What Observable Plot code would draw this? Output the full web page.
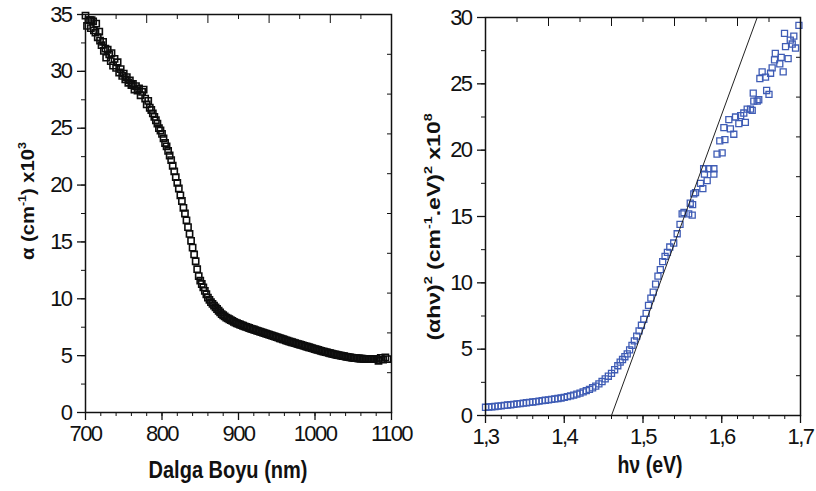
<!DOCTYPE html>
<html><head><meta charset="utf-8">
<script src="https://cdn.jsdelivr.net/npm/d3@7"></script>
<script src="https://cdn.jsdelivr.net/npm/@observablehq/plot@0.6"></script>
<style>
body{margin:0;background:#fff;}
#wrap{position:relative;width:816px;height:491px;overflow:hidden;background:#fff;}
#left,#right{position:absolute;top:0;}
#left{left:0} #right{left:408px}
</style></head><body><div id="wrap"><div id="left"></div><div id="right"></div></div>
<script>
// ---- Left panel: absorption coefficient vs wavelength ----
const wavelength = [700,702,704,706,707,708,710,711,713,714,716,718,719,721,723,724,726,727,729,731,733,734,736,738,740,742,744,746,748,750,752,754,756,758,760,762,764,766,768,770,772,774,776,778,780,782,784,786,788,790,792,794,796,798,800,802,804,806,808,810,812,814,816,818,820,822,824,826,828,830,832,834,836,838,840,842,844,846,848,850,852,854,856,858,860,862,864,866,868,870,872,874,876,878,880,882,884,886,888,890,892,894,896,898,900,902,904,906,908,910,912,914,916,918,920,922,924,926,928,930,932,934,936,938,940,942,944,946,948,950,952,954,956,958,960,962,964,966,968,970,972,974,976,978,980,982,984,986,988,990,992,994,996,998,1000,1002,1004,1006,1008,1010,1012,1014,1016,1018,1020,1022,1024,1026,1028,1030,1032,1034,1036,1038,1040,1042,1044,1046,1048,1050,1052,1054,1056,1058,1060,1062,1064,1066,1068,1070,1072,1074,1076,1078,1080,1083,1086,1089,1092,1095];
const alpha = [34.9,34.0,34.5,34.5,33.8,34.5,34.4,33.6,33.4,34.2,33.0,33.5,32.7,32.3,32.6,31.8,32.0,31.2,31.9,31.5,30.9,31.6,30.5,31.1,30.3,30.8,29.9,30.2,29.6,29.8,29.3,29.5,29.0,29.2,28.8,28.9,28.4,28.7,28.3,28.5,27.9,28.2,28.4,27.6,27.1,27.4,26.8,26.6,26.3,26.0,25.7,25.4,25.0,24.8,24.5,24.1,23.7,23.4,23.0,22.6,22.2,21.7,21.2,20.7,20.2,19.7,19.1,18.6,18.0,17.5,16.9,16.3,15.7,15.1,14.5,13.9,13.3,12.6,12.0,11.6,11.3,11.0,10.7,10.4,10.1,9.9,9.7,9.55,9.4,9.25,9.1,8.95,8.8,8.65,8.55,8.45,8.35,8.28,8.2,8.12,8.05,7.97,7.9,7.85,7.8,7.74,7.68,7.63,7.58,7.53,7.48,7.43,7.38,7.34,7.3,7.25,7.2,7.16,7.12,7.07,7.03,6.98,6.94,6.89,6.85,6.8,6.76,6.71,6.67,6.62,6.58,6.53,6.49,6.44,6.4,6.35,6.31,6.26,6.22,6.18,6.14,6.1,6.06,6.02,5.98,5.94,5.9,5.86,5.82,5.78,5.74,5.7,5.66,5.62,5.58,5.54,5.5,5.46,5.42,5.38,5.35,5.31,5.28,5.24,5.21,5.17,5.14,5.11,5.08,5.05,5.02,5.0,4.97,4.95,4.92,4.9,4.87,4.85,4.83,4.81,4.79,4.78,4.76,4.75,4.74,4.73,4.72,4.72,4.72,4.71,4.7,4.7,4.7,4.71,4.72,4.55,4.8,4.65,4.85,4.7];

// ---- Right panel: Tauc plot ----
const photonEnergy = [1.300,1.304,1.308,1.312,1.316,1.320,1.324,1.328,1.332,1.336,1.340,1.344,1.348,1.352,1.356,1.360,1.364,1.368,1.372,1.376,1.380,1.384,1.388,1.392,1.396,1.400,1.404,1.408,1.412,1.416,1.420,1.424,1.428,1.432,1.436,1.440,1.444,1.448,1.452,1.456,1.460,1.464,1.468,1.471,1.474,1.477,1.480,1.483,1.486,1.489,1.492,1.495,1.498,1.501,1.504,1.507,1.510,1.513,1.516,1.519,1.522,1.525,1.528,1.531,1.534,1.539,1.5434,1.547,1.5497,1.552,1.558,1.5625,1.560,1.563,1.5645,1.5667,1.573,1.576,1.5815,1.578,1.577,1.5835,1.59,1.59,1.594,1.6005,1.5975,1.604,1.6027,1.611,1.609,1.6153,1.6175,1.6217,1.624,1.628,1.630,1.6323,1.6365,1.6387,1.6407,1.64,1.645,1.647,1.6484,1.6513,1.657,1.66,1.6556,1.662,1.664,1.667,1.668,1.6737,1.6755,1.678,1.681,1.6843,1.6797,1.687,1.6915,1.6895,1.6937,1.698];
const tauc = [0.62,0.64,0.66,0.68,0.71,0.73,0.76,0.79,0.81,0.84,0.87,0.90,0.93,0.96,0.99,1.02,1.05,1.09,1.12,1.15,1.18,1.21,1.25,1.28,1.32,1.37,1.42,1.48,1.54,1.61,1.69,1.78,1.87,1.97,2.09,2.22,2.38,2.56,2.76,2.96,3.18,3.45,3.75,4.02,4.22,4.43,4.65,4.95,5.28,5.62,5.98,6.38,6.80,7.25,7.70,8.30,8.85,9.30,9.90,10.5,11.0,11.6,12.0,12.3,12.7,13.0,13.7,14.4,15.2,15.3,15.2,15.1,16.0,15.9,16.7,16.8,17.5,17.1,17.7,18.2,18.6,18.6,18.6,18.2,19.7,19.8,20.7,20.8,21.7,21.6,22.3,21.2,22.5,22.0,22.6,22.8,22.1,23.1,23.1,23.0,23.7,24.3,23.7,23.8,25.4,25.9,24.5,24.2,25.5,25.8,26.2,26.8,27.3,26.5,27.0,25.9,27.8,26.9,28.8,28.3,28.6,28.0,27.7,29.4];
const fitEnergy = [1.46, 1.645];
const fitValue = [0, 30];

// ---- Ticks ----
const leftXTicks = [700, 800, 900, 1000, 1100];
const leftXTickLabels = ["700", "800", "900", "1000", "1100"];
const leftYTicks = [0, 5, 10, 15, 20, 25, 30, 35];
const rightXTicks = [1.3, 1.4, 1.5, 1.6, 1.7];
const rightXTickLabels = ["1,3", "1,4", "1,5", "1,6", "1,7"];
const rightYTicks = [0, 5, 10, 15, 20, 25, 30];

const FONT = "'Liberation Sans',Arial,sans-serif";
const INK = "#111";

function labelFor(ticks, labels) {
  return (d) => labels[ticks.findIndex(t => Math.abs(t - d) < 1e-9)];
}

function frameAxes(o) {
  return [
    Plot.axisX(o.xMinor, {anchor: "bottom", tickSize: 4, fill: "none", stroke: INK, label: null}),
    Plot.axisX(o.xMajor, {anchor: "bottom", tickSize: 8, tickPadding: 5, stroke: INK, fill: INK, strokeWidth: 1.3,
      tickFormat: o.xFmt, fontSize: 22, fontFamily: FONT, label: null}),
    Plot.axisY(o.yMinor, {anchor: "left", tickSize: 4, fill: "none", stroke: INK, label: null}),
    Plot.axisY(o.yMajor, {anchor: "left", tickSize: 8, tickPadding: 6, stroke: INK, fill: INK, strokeWidth: 1.3,
      fontSize: 22, fontFamily: FONT, label: null}),
    Plot.axisX(o.topMinor, {anchor: "top", tickSize: 4, dy: 4, fill: "none", stroke: INK, label: null}),
    Plot.axisX(o.topMajor, {anchor: "top", tickSize: 8, dy: 8, fill: "none", stroke: INK, label: null}),
    Plot.axisY(o.rightTicks, {anchor: "right", tickSize: 5, dx: -5, fill: "none", stroke: INK, label: null})
  ];
}

// Tighter tick labels (the reference uses a narrow face)
function tighten(svg) {
  d3.select(svg).selectAll("g[aria-label$='tick label']").attr("letter-spacing", "-1.6px");
}

function sup(sel, parts, fs) {
  parts.forEach(([t, s], i) => {
    const prev = i > 0 && parts[i - 1][1];
    const ts = sel.append("tspan").text(t);
    if (s) ts.attr("font-size", fs * 0.62).attr("dy", prev ? 0 : -fs * 0.42);
    else if (prev) ts.attr("dy", fs * 0.42);
  });
}

// Left chart
const left = Plot.plot({
  width: 408, height: 491,
  marginLeft: 85, marginRight: 17, marginTop: 14, marginBottom: 79,
  x: {domain: [700, 1100]},
  y: {domain: [0, 35]},
  style: {background: "transparent", color: INK, overflow: "visible"},
  marks: [
    Plot.dot(wavelength, {x: wavelength, y: alpha, symbol: "square", r: 3.5, stroke: "#0d0d0d", strokeWidth: 1.6, fill: "none"}),
    ...frameAxes({
      xMajor: leftXTicks, xMinor: d3.range(700, 1101, 20), xFmt: labelFor(leftXTicks, leftXTickLabels),
      yMajor: leftYTicks, yMinor: d3.range(0, 35.1, 2.5),
      topMajor: d3.range(700, 1101, 80), topMinor: d3.range(740, 1100, 80),
      rightTicks: d3.range(3.5, 35, 3.5)
    }),
    Plot.frame({stroke: INK, strokeWidth: 1.5})
  ]
});
document.getElementById("left").appendChild(left);
tighten(left);

// Right chart
const right = Plot.plot({
  width: 408, height: 491,
  marginLeft: 77, marginRight: 16, marginTop: 17, marginBottom: 76,
  x: {domain: [1.3, 1.7]},
  y: {domain: [0, 30]},
  style: {background: "transparent", color: INK, overflow: "visible"},
  marks: [
    Plot.dot(photonEnergy, {x: photonEnergy, y: tauc, symbol: "square", r: 3.4, stroke: "#3f5cb5", strokeWidth: 1.3, fill: "none"}),
    Plot.line(fitEnergy, {x: fitEnergy, y: fitValue, stroke: "#222", strokeWidth: 1}),
    ...frameAxes({
      xMajor: rightXTicks, xMinor: d3.range(0, 21).map(i => 1.3 + i * 0.02),
      xFmt: labelFor(rightXTicks, rightXTickLabels),
      yMajor: rightYTicks, yMinor: d3.range(0, 30.1, 2.5),
      topMajor: d3.range(0, 5).map(i => 1.38 + i * 0.08), topMinor: d3.range(0, 5).map(i => 1.34 + i * 0.08),
      rightTicks: d3.range(3, 30, 3)
    }),
    Plot.frame({stroke: INK, strokeWidth: 1.5})
  ]
});
document.getElementById("right").appendChild(right);
tighten(right);

// Axis titles as real text with superscripts
const ls = d3.select(left);
ls.append("text").attr("transform", "translate(228,478) scale(0.87,1)").attr("text-anchor", "middle")
  .attr("font-family", FONT).attr("font-size", 23).attr("font-weight", "bold").attr("fill", INK)
  .text("Dalga Boyu (nm)");
const lyl = ls.append("text").attr("transform", "translate(34,201) rotate(-90) scale(1.12,1)").attr("text-anchor", "middle")
  .attr("font-family", FONT).attr("font-size", 18).attr("font-weight", "bold").attr("fill", INK);
sup(lyl, [["α (cm", false], ["-1", true], [") x10", false], ["3", true]], 18);

const rs = d3.select(right);
rs.append("text").attr("transform", "translate(242,473) scale(0.85,1)").attr("text-anchor", "middle")
  .attr("font-family", FONT).attr("font-size", 23).attr("font-weight", "bold").attr("fill", INK)
  .text("hν (eV)");
const ryl = rs.append("text").attr("transform", "translate(32,227) rotate(-90) scale(1.28,1)").attr("text-anchor", "middle")
  .attr("font-family", FONT).attr("font-size", 18).attr("font-weight", "bold").attr("fill", INK);
sup(ryl, [["(αhν)", false], ["2", true], [" (cm", false], ["-1", true], [".eV)", false], ["2", true], [" x10", false], ["8", true]], 18);
</script></body></html>
